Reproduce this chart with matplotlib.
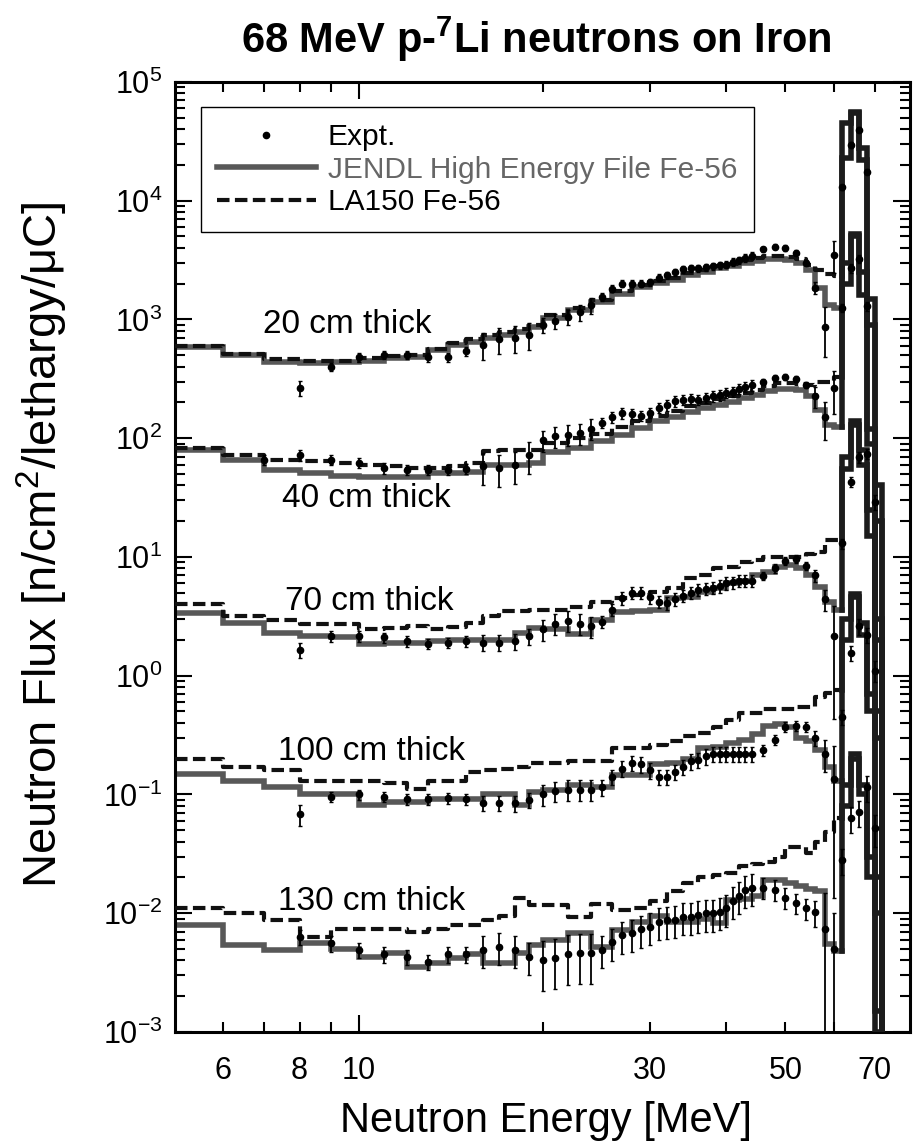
import numpy as np
import matplotlib
matplotlib.use('Agg')
import matplotlib.pyplot as plt
from matplotlib.lines import Line2D
from matplotlib.ticker import FixedLocator, FuncFormatter, LogLocator, NullFormatter

plt.rcParams['font.family'] = ['Liberation Sans', 'DejaVu Sans']
plt.rcParams['mathtext.fontset'] = 'custom'
plt.rcParams['mathtext.rm'] = 'Liberation Sans'
plt.rcParams['mathtext.it'] = 'Liberation Sans:italic'
plt.rcParams['mathtext.bf'] = 'Liberation Sans:bold'

## data: bin edges [MeV] of the calculated spectra
edges = [5, 6, 7, 8, 9, 10, 11, 12, 13, 14, 15, 16, 17, 18, 19, 20,
         22, 24, 26, 28, 30, 32, 34, 36, 38, 40, 42, 44, 46, 48, 50, 52,
         54, 56, 58, 60, 62, 64, 66, 68, 70, 72, 74]

# JENDL High Energy File Fe-56 (one value per bin)
jendl_20 = [590, 500, 440, 430, 435, 445, 475, 480, 550, 615, 650, 700, 740, 790, 860,
            1020, 1200, 1400, 1650, 1860, 2030, 2150, 2350, 2500, 2700, 2800, 3000, 3100,
            3250, 3250, 3150, 3000, 2600, 1850, 1320, 1250,
            2.3e4, 5.5e4, 2.8e4, 1.5e3, 40, 1e-6]
jendl_40 = [80, 66, 54, 51, 48, 47, 47, 47, 51, 51, 52, 59, 59, 60, 62,
            76, 83, 95, 107, 122, 139, 152, 166, 178, 190, 203, 220, 232,
            250, 262, 262, 255, 225, 173, 130, 125,
            2000, 5000, 1600, 120, 3, 1e-6]
jendl_70 = [3.4, 2.8, 2.3, 2.15, 2.1, 1.85, 1.9, 1.9, 1.95, 2.0, 2.0, 2.0, 2.0, 2.3, 2.5,
            2.45, 2.25, 2.95, 3.45, 3.5, 3.6, 4.5, 4.6, 5.1, 5.5, 6.0, 6.3, 7.0,
            7.5, 8.3, 8.5, 8.0, 7.0, 5.6, 4.2, 3.6,
            55, 130, 80, 25, 0.5, 1e-6]
jendl_100 = [0.15, 0.13, 0.115, 0.10, 0.10, 0.081, 0.087, 0.087, 0.091, 0.091, 0.091, 0.10, 0.10, 0.081, 0.105,
             0.11, 0.12, 0.115, 0.145, 0.145, 0.18, 0.185, 0.2, 0.245, 0.25, 0.27, 0.29, 0.32,
             0.38, 0.39, 0.37, 0.30, 0.28, 0.235, 0.17, 0.13,
             2.0, 4.6, 2.8, 0.7, 0.02, 1e-6]
jendl_130 = [0.0079, 0.0054, 0.0049, 0.0056, 0.005, 0.0043, 0.0046, 0.0035, 0.0038, 0.0042, 0.0045, 0.0038, 0.0038, 0.0046, 0.0054,
             0.006, 0.0068, 0.0052, 0.0072, 0.0085, 0.0095, 0.0085, 0.0085, 0.009, 0.0082, 0.013, 0.0133, 0.014,
             0.019, 0.019, 0.018, 0.017, 0.016, 0.0155, 0.0055, 0.0048,
             0.08, 0.2, 0.12, 0.03, 0.0015, 1e-6]

# LA150 Fe-56
la150_20 = [600, 510, 460, 450, 450, 470, 490, 500, 560, 630, 680, 740, 780, 830, 900,
            1080, 1250, 1450, 1750, 1950, 2100, 2250, 2450, 2600, 2800, 2950, 3150, 3300,
            3450, 3450, 3350, 3200, 2900, 2600, 2400, 2300,
            4.5e4, 5.6e4, 2.2e4, 900, 20, 1e-6]
la150_40 = [82, 72, 66, 64, 62, 60, 58, 56, 56, 58, 62, 78, 80, 80, 80,
            92, 100, 108, 125, 140, 155, 168, 185, 198, 212, 225, 240, 255,
            275, 290, 290, 285, 280, 295, 300, 330,
            3000, 5200, 2500, 90, 2, 1e-6]
la150_70 = [4.0, 3.2, 2.95, 2.7, 2.7, 2.45, 2.5, 2.6, 2.45, 2.55, 2.8, 3.2, 3.5, 3.5, 3.6,
            3.6, 3.8, 4.2, 4.5, 4.8, 5.1, 5.5, 6.6, 7.1, 8.0, 8.3, 9.0, 9.5,
            10, 10, 10, 10, 10.5, 11, 14, 14,
            70, 140, 60, 15, 0.3, 1e-6]
la150_100 = [0.2, 0.17, 0.16, 0.13, 0.13, 0.13, 0.125, 0.112, 0.13, 0.13, 0.155, 0.16, 0.165, 0.17, 0.185,
             0.185, 0.19, 0.19, 0.245, 0.245, 0.26, 0.28, 0.31, 0.33, 0.37, 0.42, 0.49, 0.49,
             0.52, 0.52, 0.52, 0.55, 0.55, 0.66, 0.72, 0.76,
             3.0, 4.9, 2.2, 0.5, 0.01, 1e-6]
la150_130 = [0.011, 0.010, 0.0088, 0.0063, 0.0073, 0.0073, 0.0073, 0.007, 0.0073, 0.0079, 0.008, 0.0088, 0.0094, 0.0135, 0.0117,
             0.0117, 0.0093, 0.012, 0.0107, 0.011, 0.0126, 0.0155, 0.018, 0.02, 0.021, 0.022, 0.025, 0.026,
             0.027, 0.0295, 0.036, 0.036, 0.032, 0.04, 0.048, 0.063,
             0.12, 0.22, 0.1, 0.02, 0.001, 1e-6]

# experiment
nan = np.nan
expt_e = [7, 8, 9, 10, 11, 12, 13, 14, 15, 16, 17, 18, 19, 20, 21, 22, 23, 24, 25, 26,
          27, 28, 29, 30, 31, 32, 33, 34, 35, 36, 37, 38, 39, 40, 41, 42, 43, 44,
          46, 48, 50, 52, 54, 56, 58, 60, 62, 64, 66, 68, 70]
expt_20 = [nan, 265, 400, 480, 500, 500, 480, 480, 540, 610, 680, 700, 740, 900, 970, 1050, 1150, 1320, 1550, 1820,
           2000, 2000, 2000, 2050, 2250, 2350, 2500, 2650, 2700, 2700, 2750, 2800, 2850, 2900, 3050, 3150, 3300, 3450,
           3900, 4100, 4000, 3650, 3000, 1850, 870, 3500, 13000, 29500, 39500, 17500, nan]
expt_40 = [66, 72, 66, 62, 56, 54, 54, 54, 55, 58, 56, 59, 72, 96, 104, 107, 110, 120, 135, 150,
           162, 160, 155, 163, 180, 190, 205, 210, 215, 210, 220, 225, 230, 240, 245, 260, 270, 280,
           300, 320, 330, 315, 280, 225, 150, 265, 1260, 2700, 3250, 1290, nan]
expt_70 = [nan, 1.65, 2.15, 2.15, 2.1, 1.95, 1.85, 1.9, 1.95, 1.9, 1.9, 1.95, 2.15, 2.45, 2.75, 2.9, 2.75, 2.6, 2.85, 3.6,
           4.5, 5.0, 5.0, 4.6, 4.2, 4.1, 4.4, 4.7, 5.0, 5.3, 5.4, 5.5, 5.7, 6.0, 6.1, 6.3, 6.3, 6.3,
           6.9, 8.0, 9.3, 9.6, 8.4, 7.0, 4.4, 2.15, 13, 43, 69, 74, 29]
expt_100 = [nan, 0.068, 0.096, 0.1, 0.096, 0.091, 0.091, 0.093, 0.091, 0.085, 0.085, 0.084, 0.09, 0.1, 0.107, 0.11, 0.11, 0.11, 0.115, 0.14,
            0.165, 0.185, 0.18, 0.16, 0.14, 0.14, 0.155, 0.17, 0.19, 0.195, 0.21, 0.22, 0.22, 0.22, 0.22, 0.22, 0.22, 0.22,
            0.235, 0.29, 0.37, 0.38, 0.37, 0.3, 0.22, 0.135, 0.45, 1.55, 2.6, 2.2, 1.1]
expt_130 = [nan, 0.0063, 0.0056, 0.0049, 0.0045, 0.0043, 0.0039, 0.0045, 0.0045, 0.0049, 0.0052, 0.0049, 0.0043, 0.004, 0.0042, 0.0045, 0.0046, 0.0046, 0.0049, 0.0057,
            0.0065, 0.0068, 0.0073, 0.0077, 0.0085, 0.0087, 0.0088, 0.0093, 0.0093, 0.0097, 0.01, 0.01, 0.0103, 0.011, 0.0127, 0.014, 0.0157, 0.0164,
            0.0164, 0.0158, 0.0135, 0.0122, 0.011, 0.0102, 0.0074, 0.005, 0.028, 0.063, 0.071, 0.115, 0.052]

# relative errors of the experiment
err_20 = [0, 0.15, 0.08, 0.08, 0.08, 0.08, 0.08, 0.08, 0.08, 0.25, 0.25, 0.25, 0.25, 0.15, 0.15, 0.15, 0.15, 0.15, 0.07, 0.07,
          0.07, 0.07, 0.07, 0.07, 0.07, 0.07, 0.07, 0.07, 0.07, 0.07, 0.07, 0.07, 0.07, 0.07, 0.07, 0.07, 0.07, 0.07,
          0.05, 0.05, 0.05, 0.05, 0.05, 0.12, 0.45, 0.3, 0.05, 0.05, 0.05, 0.05, 0]
err_40 = [0.1, 0.1, 0.1, 0.1, 0.1, 0.1, 0.1, 0.1, 0.1, 0.3, 0.3, 0.3, 0.3, 0.2, 0.2, 0.2, 0.2, 0.2, 0.1, 0.1,
          0.1, 0.1, 0.1, 0.1, 0.1, 0.1, 0.1, 0.1, 0.1, 0.1, 0.1, 0.1, 0.1, 0.1, 0.1, 0.1, 0.1, 0.1,
          0.06, 0.06, 0.06, 0.06, 0.06, 0.2, 0.35, 0.4, 0.08, 0.08, 0.08, 0.08, 0]
err_70 = [0, 0.15, 0.1, 0.1, 0.1, 0.1, 0.1, 0.1, 0.1, 0.15, 0.15, 0.15, 0.15, 0.2, 0.2, 0.2, 0.2, 0.2, 0.12, 0.12,
          0.12, 0.12, 0.12, 0.12, 0.12, 0.12, 0.12, 0.12, 0.12, 0.12, 0.12, 0.12, 0.12, 0.12, 0.12, 0.12, 0.12, 0.12,
          0.08, 0.08, 0.08, 0.08, 0.08, 0.12, 0.2, 0.8, 0.1, 0.1, 0.1, 0.1, 0.15]
err_100 = [0, 0.2, 0.1, 0.1, 0.1, 0.1, 0.1, 0.1, 0.1, 0.15, 0.15, 0.15, 0.15, 0.2, 0.2, 0.2, 0.2, 0.2, 0.15, 0.15,
           0.15, 0.15, 0.15, 0.15, 0.15, 0.15, 0.15, 0.15, 0.15, 0.15, 0.15, 0.15, 0.15, 0.15, 0.15, 0.15, 0.15, 0.15,
           0.1, 0.1, 0.1, 0.1, 0.1, 0.15, 0.3, 0.9, 0.15, 0.15, 0.15, 0.15, 0.2]
err_130 = [0, 0.15, 0.15, 0.15, 0.15, 0.15, 0.15, 0.15, 0.15, 0.3, 0.3, 0.3, 0.3, 0.45, 0.45, 0.45, 0.45, 0.45, 0.3, 0.3,
           0.3, 0.3, 0.3, 0.3, 0.3, 0.3, 0.3, 0.3, 0.3, 0.3, 0.3, 0.3, 0.3, 0.3, 0.3, 0.3, 0.3, 0.3,
           0.2, 0.2, 0.2, 0.2, 0.2, 0.25, 1.0, 1.0, 0.25, 0.25, 0.25, 0.25, 0.3]

thick_labels = ['20 cm thick', '40 cm thick', '70 cm thick', '100 cm thick', '130 cm thick']
xtick_labels = [6, 8, 10, 30, 50, 70]

jendl = [jendl_20, jendl_40, jendl_70, jendl_100, jendl_130]
la150 = [la150_20, la150_40, la150_70, la150_100, la150_130]
expt = [expt_20, expt_40, expt_70, expt_100, expt_130]
errs = [err_20, err_40, err_70, err_100, err_130]

## plot
GRAY = '#585858'
DARK = '#1c1c1c'
NPK = 36   # first bin of the source peak (62 MeV)


def steps(e, v):
    x = np.repeat(np.asarray(e, float), 2)[1:-1]
    y = np.repeat(np.asarray(v, float), 2)
    return x, y


fig = plt.figure(figsize=(9.13, 11.46), dpi=100)
ax = fig.add_axes([0.1917, 0.0995, 0.805, 0.829])
ax.set_xscale('log')
ax.set_yscale('log')

for j, l, ex, er in zip(jendl, la150, expt, errs):
    x, y = steps(edges[:NPK + 1], j[:NPK])
    ax.plot(x, y, color=GRAY, lw=4, solid_joinstyle='miter', zorder=2)
    x, y = steps(edges[:NPK + 1], l[:NPK])
    ax.plot(x, y, color='#111111', lw=3, ls=(0, (3, 1.3)), zorder=3)
    for lib in (j, l):
        x, y = steps(edges[NPK:], lib[NPK:])
        ax.plot(np.r_[edges[NPK], x], np.r_[lib[NPK - 1], y], color=DARK, lw=4,
                solid_joinstyle='miter', zorder=3)
    v = np.array(ex)
    ax.errorbar(expt_e, v, yerr=v * np.array(er), fmt='o', color='k', ms=4.5,
                elinewidth=1.3, capsize=1.5, capthick=1.0, zorder=4)

ax.set_xlim(5, 80)
ax.set_ylim(1e-3, 1e5)

ax.xaxis.set_major_locator(FixedLocator([10]))
ax.xaxis.set_minor_locator(FixedLocator([6, 7, 8, 9, 20, 30, 40, 50, 60, 70]))
fmt = FuncFormatter(lambda v, p: f'{v:g}' if round(v) in xtick_labels else '')
ax.xaxis.set_major_formatter(fmt)
ax.xaxis.set_minor_formatter(fmt)
ax.yaxis.set_major_locator(LogLocator(base=10, numticks=20))
ax.yaxis.set_minor_locator(LogLocator(base=10, subs=np.arange(2, 10), numticks=20))
ax.yaxis.set_minor_formatter(NullFormatter())

ax.tick_params(which='both', direction='in', top=True, right=True, width=1.5, labelsize=22)
ax.tick_params(which='major', length=12)
ax.tick_params(which='minor', length=7)
ax.tick_params(axis='x', which='both', pad=17)
ax.tick_params(axis='y', which='both', pad=9)
for s in ax.spines.values():
    s.set_linewidth(2.2)

label_pos = [(0.235, 0.745), (0.260, 0.562), (0.264, 0.453), (0.267, 0.295), (0.267, 0.137)]
for txt, (px, py) in zip(thick_labels, label_pos):
    ax.text(px, py, txt, transform=ax.transAxes, ha='center', va='center', fontsize=24)

handles = [Line2D([], [], marker='o', ls='none', color='k', ms=4.5),
           Line2D([], [], color=GRAY, lw=4),
           Line2D([], [], color='#111111', lw=3, ls=(0, (3, 1.3)))]
leg = ax.legend(handles, ['Expt.', 'JENDL High Energy File Fe-56', 'LA150 Fe-56'],
                loc='upper left', bbox_to_anchor=(0.035, 0.974), borderaxespad=0,
                fontsize=21.5, handlelength=3.3, handletextpad=0.4, borderpad=0.55,
                labelspacing=0.15, numpoints=1, fancybox=False, framealpha=1)
leg.get_frame().set_edgecolor('k')
leg.get_frame().set_linewidth(1.0)
leg.get_texts()[1].set_color('#666666')

fig.text(0.588, 0.966, r'68 MeV p-$^{\mathbf{7}}$Li neutrons on Iron', ha='center', va='center',
         fontsize=30, fontweight='bold')
fig.text(0.598, 0.022, 'Neutron Energy [MeV]', ha='center', va='center', fontsize=30)
fig.text(0.046, 0.525, 'Neutron Flux [n/cm$^2$/lethargy/\u03bcC]', ha='center', va='center',
         rotation=90, fontsize=34)

fig.savefig('out.png', dpi=100)
